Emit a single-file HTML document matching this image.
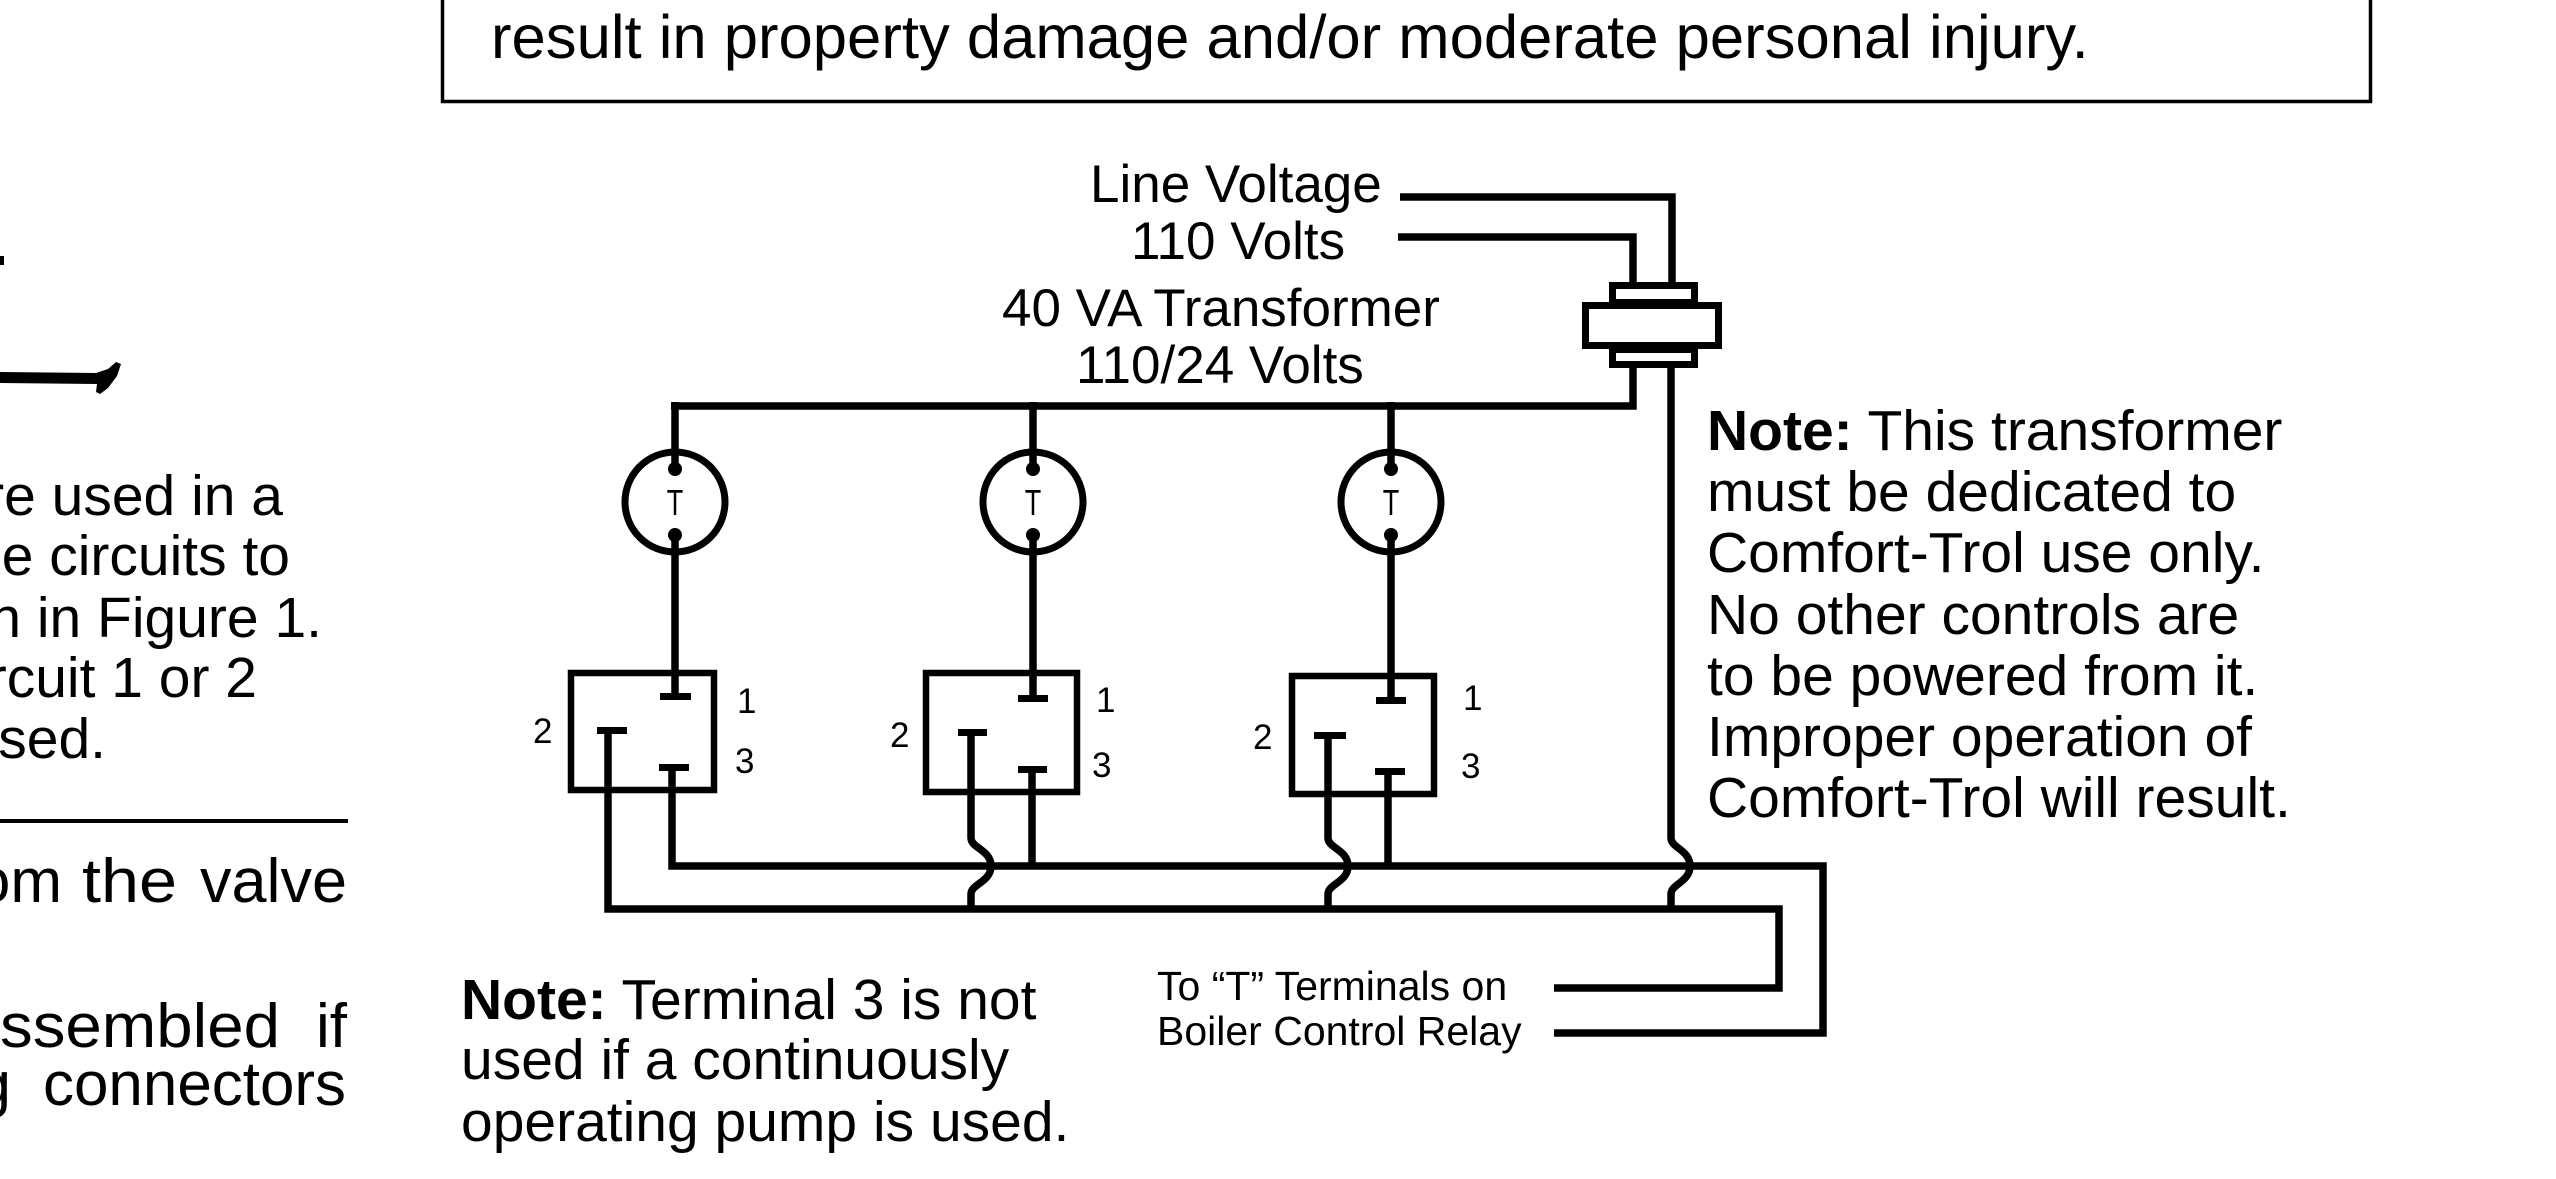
<!DOCTYPE html>
<html>
<head>
<meta charset="utf-8">
<style>
html,body{margin:0;padding:0;background:#fff;}
body{width:2556px;height:1179px;overflow:hidden;}
svg{display:block;}
text{font-family:"Liberation Sans",Arial,sans-serif;fill:#000;}
</style>
</head>
<body>
<svg width="2556" height="1179" viewBox="0 0 2556 1179" xmlns="http://www.w3.org/2000/svg">
<rect width="2556" height="1179" fill="#fff"/>

<!-- top warning box -->
<path d="M442.5,0 V101.5 H2370.5 V0" fill="none" stroke="#000" stroke-width="3.5"/>
<text x="491" y="58" font-size="61.6">result in property damage and/or moderate personal injury.</text>

<!-- left column fragments -->
<rect x="0" y="256" width="4" height="9" fill="#000"/>
<polygon points="0,372 96,373 108,369 116,362 121,364 117,376 108,388 100,394 96,392 97,384 0,383" fill="#000"/>
<g font-size="57" text-anchor="end">
<text x="283" y="515">re used in a</text>
<text x="290" y="575">e circuits to</text>
<text x="322" y="637">n in Figure 1.</text>
<text x="257" y="697">rcuit 1 or 2</text>
<text x="106" y="758">sed.</text>
</g>
<rect x="0" y="819" width="348" height="4" fill="#000"/>
<g font-size="62">
<text x="62" y="902" text-anchor="end">om</text>
<text x="82" y="902" textLength="95" lengthAdjust="spacingAndGlyphs">the</text>
<text x="200" y="902" textLength="147" lengthAdjust="spacingAndGlyphs">valve</text>
<text x="0" y="1047" textLength="280" lengthAdjust="spacingAndGlyphs">ssembled</text>
<text x="347" y="1047" text-anchor="end">if</text>
<text x="11" y="1105" text-anchor="end">g</text>
<text x="43" y="1105" textLength="303" lengthAdjust="spacingAndGlyphs">connectors</text>
</g>

<!-- diagram labels -->
<g font-size="53" fill="#111">
<text x="1090" y="202">Line Voltage</text>
<text x="1131" y="259">110 Volts</text>
<text x="1002" y="326">40 VA Transformer</text>
<text x="1076" y="383">110/24 Volts</text>
</g>

<!-- transformer -->
<g fill="none" stroke="#000" stroke-width="7">
<rect x="1612.5" y="285.5" width="82" height="17"/>
<rect x="1585.5" y="305.5" width="133" height="40"/>
<rect x="1612.5" y="349.5" width="82" height="15"/>
</g>

<!-- wires -->
<g fill="none" stroke="#000" stroke-width="7.5" stroke-linejoin="miter" stroke-linecap="butt">
<path d="M1400,197 H1672 V283"/>
<path d="M1398,237 H1633 V283"/>
<path d="M1633,368 V406 H671"/>
<path d="M675,402 V468"/>
<path d="M1033,402 V468"/>
<path d="M1391,402 V468"/>
<path d="M675,535 V673"/>
<path d="M1033,535 V673"/>
<path d="M1391,535 V676"/>
<path d="M1671,368 V838 C1671,848 1690,850 1690,866 C1690,882 1671,884 1671,894 V909"/>
<path d="M672,767 V866 H1823 V1033 H1554"/>
<path d="M608,730 V909 H1779 V988 H1554"/>
<path d="M971,732 V838 C971,848 991,850 991,866 C991,882 971,884 971,894 V909"/>
<path d="M1032,769 V866"/>
<path d="M1328,735 V838 C1328,848 1348,850 1348,866 C1348,882 1328,884 1328,894 V909"/>
<path d="M1388,771 V866"/>
<path d="M675,673 V697"/>
<path d="M1033,673 V698"/>
<path d="M1391,676 V700"/>
</g>

<!-- terminal bars -->
<g fill="#000">
<rect x="660" y="693" width="31" height="7"/>
<rect x="597" y="727" width="30" height="7"/>
<rect x="659" y="764" width="30" height="7"/>

<rect x="1018" y="695" width="30" height="7"/>
<rect x="958" y="729" width="29" height="7"/>
<rect x="1018" y="766" width="29" height="7"/>

<rect x="1376" y="697" width="30" height="7"/>
<rect x="1314" y="732" width="32" height="7"/>
<rect x="1375" y="768" width="30" height="7"/>
</g>

<!-- thermostat circles -->
<g fill="none" stroke="#000" stroke-width="7">
<circle cx="675" cy="502" r="50"/>
<circle cx="1033" cy="502" r="50"/>
<circle cx="1391" cy="502" r="50"/>
</g>
<g fill="#000">
<circle cx="675" cy="469" r="7"/><circle cx="675" cy="535" r="7"/>
<circle cx="1033" cy="469" r="7"/><circle cx="1033" cy="535" r="7"/>
<circle cx="1391" cy="469" r="7"/><circle cx="1391" cy="535" r="7"/>
</g>
<g font-size="36" text-anchor="middle" fill="#111">
<text x="675" y="515" transform="translate(675 0) scale(0.75 1) translate(-675 0)">T</text>
<text x="1033" y="515" transform="translate(1033 0) scale(0.75 1) translate(-1033 0)">T</text>
<text x="1391" y="515" transform="translate(1391 0) scale(0.75 1) translate(-1391 0)">T</text>
</g>

<!-- relay boxes -->
<g fill="none" stroke="#000" stroke-width="6.5">
<rect x="571" y="673" width="143" height="117"/>
<rect x="926" y="673" width="151" height="119"/>
<rect x="1292" y="676" width="142" height="118"/>
</g>

<!-- relay terminal numbers -->
<g font-size="35" fill="#111">
<text x="737" y="713">1</text>
<text x="735" y="773">3</text>
<text x="533" y="743">2</text>
<text x="1096" y="712">1</text>
<text x="1092" y="777">3</text>
<text x="890" y="747">2</text>
<text x="1463" y="710">1</text>
<text x="1461" y="778">3</text>
<text x="1253" y="749">2</text>
</g>

<!-- boiler labels -->
<g font-size="41" fill="#111">
<text x="1157" y="1000">To “T” Terminals on</text>
<text x="1157" y="1045">Boiler Control Relay</text>
</g>

<!-- right note -->
<g font-size="57">
<text x="1707" y="450"><tspan font-weight="bold">Note:</tspan> This transformer</text>
<text x="1707" y="511">must be dedicated to</text>
<text x="1707" y="572">Comfort-Trol use only.</text>
<text x="1707" y="634">No other controls are</text>
<text x="1707" y="695">to be powered from it.</text>
<text x="1707" y="756">Improper operation of</text>
<text x="1707" y="817">Comfort-Trol will result.</text>
</g>

<!-- bottom note -->
<g font-size="57">
<text x="461" y="1019"><tspan font-weight="bold">Note:</tspan> Terminal 3 is not</text>
<text x="461" y="1079">used if a continuously</text>
<text x="461" y="1141">operating pump is used.</text>
</g>
</svg>
</body>
</html>
